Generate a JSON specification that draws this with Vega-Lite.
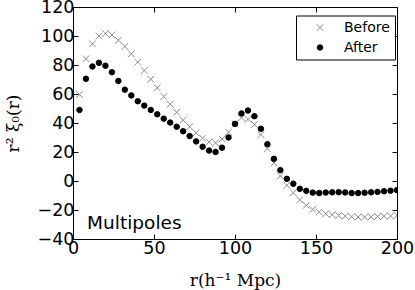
{
  "$schema": "https://vega.github.io/schema/vega-lite/v6.json",
  "width": 324,
  "height": 232,
  "autosize": "none",
  "padding": {"left": 73, "top": 7, "right": 18, "bottom": 51},
  "background": "white",
  "config": {
    "view": {"stroke": "black", "strokeWidth": 1},
    "font": "DejaVu Sans",
    "axis": {"grid": false, "domain": false, "tickColor": "black", "tickWidth": 1, "labelColor": "black", "labelFont": "DejaVu Sans", "labelFontSize": 17.5, "titleColor": "black", "titleFont": "DejaVu Serif", "titleFontSize": 17, "titleFontWeight": "normal", "labelFlush": false, "labelOverlap": false}
  },
  "datasets": {
    "pts": [
      {"r":4,"v":59.7,"s":"Before"},{"r":8,"v":84.3,"s":"Before"},{"r":12,"v":94.6,"s":"Before"},{"r":16,"v":100,"s":"Before"},{"r":20,"v":101.7,"s":"Before"},
      {"r":24,"v":100.8,"s":"Before"},{"r":28,"v":97,"s":"Before"},{"r":32,"v":92.8,"s":"Before"},{"r":36,"v":87.7,"s":"Before"},{"r":40,"v":82,"s":"Before"},
      {"r":44,"v":76.2,"s":"Before"},{"r":48,"v":70.2,"s":"Before"},{"r":52,"v":64.3,"s":"Before"},{"r":56,"v":58.3,"s":"Before"},{"r":60,"v":53,"s":"Before"},
      {"r":64,"v":47.4,"s":"Before"},{"r":68,"v":42,"s":"Before"},{"r":72,"v":37.4,"s":"Before"},{"r":76,"v":33.2,"s":"Before"},{"r":80,"v":29.5,"s":"Before"},
      {"r":84,"v":27,"s":"Before"},{"r":88,"v":26.3,"s":"Before"},{"r":92,"v":29,"s":"Before"},{"r":96,"v":33.7,"s":"Before"},{"r":100,"v":39.5,"s":"Before"},
      {"r":104,"v":43.6,"s":"Before"},{"r":108,"v":42.5,"s":"Before"},{"r":112,"v":39,"s":"Before"},{"r":116,"v":32,"s":"Before"},{"r":120,"v":22.2,"s":"Before"},
      {"r":124,"v":12.5,"s":"Before"},{"r":128,"v":3.5,"s":"Before"},{"r":132,"v":-3,"s":"Before"},{"r":136,"v":-8.1,"s":"Before"},{"r":140,"v":-13,"s":"Before"},
      {"r":144,"v":-16.8,"s":"Before"},{"r":148,"v":-19.6,"s":"Before"},{"r":152,"v":-21.4,"s":"Before"},{"r":156,"v":-22.6,"s":"Before"},{"r":160,"v":-23.2,"s":"Before"},
      {"r":164,"v":-23.8,"s":"Before"},{"r":168,"v":-24.3,"s":"Before"},{"r":172,"v":-24.7,"s":"Before"},{"r":176,"v":-24.9,"s":"Before"},{"r":180,"v":-24.9,"s":"Before"},
      {"r":184,"v":-24.7,"s":"Before"},{"r":188,"v":-24.5,"s":"Before"},{"r":192,"v":-24.3,"s":"Before"},{"r":196,"v":-24.1,"s":"Before"},{"r":200,"v":-23.8,"s":"Before"},
      {"r":4,"v":49,"s":"After"},{"r":8,"v":70.5,"s":"After"},{"r":12,"v":79,"s":"After"},{"r":16,"v":81.5,"s":"After"},{"r":20,"v":79.5,"s":"After"},
      {"r":24,"v":75,"s":"After"},{"r":28,"v":69,"s":"After"},{"r":32,"v":63,"s":"After"},{"r":36,"v":59,"s":"After"},{"r":40,"v":55,"s":"After"},
      {"r":44,"v":52,"s":"After"},{"r":48,"v":49,"s":"After"},{"r":52,"v":46,"s":"After"},{"r":56,"v":43,"s":"After"},{"r":60,"v":40.3,"s":"After"},
      {"r":64,"v":37.4,"s":"After"},{"r":68,"v":34.3,"s":"After"},{"r":72,"v":31,"s":"After"},{"r":76,"v":27.3,"s":"After"},{"r":80,"v":23.6,"s":"After"},
      {"r":84,"v":21,"s":"After"},{"r":88,"v":20,"s":"After"},{"r":92,"v":23,"s":"After"},{"r":96,"v":30,"s":"After"},{"r":100,"v":39.4,"s":"After"},
      {"r":104,"v":46.6,"s":"After"},{"r":108,"v":48.6,"s":"After"},{"r":112,"v":44.7,"s":"After"},{"r":116,"v":36,"s":"After"},{"r":120,"v":25.4,"s":"After"},
      {"r":124,"v":15.3,"s":"After"},{"r":128,"v":7.5,"s":"After"},{"r":132,"v":1.5,"s":"After"},{"r":136,"v":-1.9,"s":"After"},{"r":140,"v":-5.4,"s":"After"},
      {"r":144,"v":-6.8,"s":"After"},{"r":148,"v":-8,"s":"After"},{"r":152,"v":-8.3,"s":"After"},{"r":156,"v":-8,"s":"After"},{"r":160,"v":-7.8,"s":"After"},
      {"r":164,"v":-7.7,"s":"After"},{"r":168,"v":-7.9,"s":"After"},{"r":172,"v":-8.3,"s":"After"},{"r":176,"v":-8.3,"s":"After"},{"r":180,"v":-8.1,"s":"After"},
      {"r":184,"v":-7.8,"s":"After"},{"r":188,"v":-7.5,"s":"After"},{"r":192,"v":-7.1,"s":"After"},{"r":196,"v":-6.7,"s":"After"},{"r":200,"v":-6.3,"s":"After"}
    ],
    "note": [{"x": 8.7, "y": -33, "t": "Multipoles"}]
  },
  "layer": [
    {
      "data": {"name": "pts"},
      "mark": {"type": "point", "filled": true, "strokeWidth": 1, "opacity": 1, "clip": true},
      "encoding": {
        "x": {"field": "r", "type": "quantitative", "scale": {"domain": [0, 200], "nice": false, "zero": false},
              "axis": {"orient": "bottom", "values": [0, 50, 100, 150, 200], "tickSize": -5, "labelPadding": 5, "title": "r(h⁻¹ Mpc)", "titleY": 46, "titleBaseline": "alphabetic"}},
        "y": {"field": "v", "type": "quantitative", "scale": {"domain": [-40, 120], "nice": false, "zero": false},
              "axis": {"orient": "left", "values": [-40, -20, 0, 20, 40, 60, 80, 100, 120], "tickSize": -5, "labelPadding": 4, "labelExpr": "replace(datum.label, '-', '−')", "title": "r² ξ₀(r)", "titleX": -55, "titleBaseline": "alphabetic"}},
        "size": {"field": "s", "type": "nominal", "scale": {"domain": ["Before", "After"], "range": [44, 30]}, "legend": null},
        "color": {"field": "s", "type": "nominal", "title": null, "scale": {"domain": ["Before", "After"], "range": ["#8a8a8a", "#000000"]},
                  "legend": {"orient": "none", "legendX": 223, "legendY": 8.5, "strokeColor": "black", "fillColor": "white", "padding": 5, "labelFontSize": 14, "labelFont": "DejaVu Sans", "labelColor": "black", "symbolSize": 30, "symbolStrokeWidth": 1, "symbolOffset": 12, "labelOffset": 17, "rowPadding": 6, "cornerRadius": 0}},
        "stroke": {"field": "s", "type": "nominal", "title": null, "scale": {"domain": ["Before", "After"], "range": ["#8a8a8a", "#000000"]},
                  "legend": {"orient": "none", "legendX": 223, "legendY": 8.5, "strokeColor": "black", "fillColor": "white", "padding": 5, "labelFontSize": 14, "labelFont": "DejaVu Sans", "labelColor": "black", "symbolSize": 30, "symbolStrokeWidth": 1, "symbolOffset": 12, "labelOffset": 17, "rowPadding": 6, "cornerRadius": 0}},
        "shape": {"field": "s", "type": "nominal", "title": null, "scale": {"domain": ["Before", "After"], "range": ["M-1,-1L1,1M-1,1L1,-1", "circle"]},
                  "legend": {"orient": "none", "legendX": 223, "legendY": 8.5, "strokeColor": "black", "fillColor": "white", "padding": 5, "labelFontSize": 14, "labelFont": "DejaVu Sans", "labelColor": "black", "symbolSize": 30, "symbolStrokeWidth": 1, "symbolOffset": 12, "labelOffset": 17, "rowPadding": 6, "cornerRadius": 0}}
      }
    },
    {
      "data": {"name": "note"},
      "mark": {"type": "text", "align": "left", "baseline": "alphabetic", "fontSize": 18.5, "font": "DejaVu Sans", "color": "black"},
      "encoding": {
        "x": {"field": "x", "type": "quantitative", "axis": null},
        "y": {"field": "y", "type": "quantitative", "axis": null},
        "text": {"field": "t"}
      }
    },
    {
      "data": {"name": "pts"},
      "mark": {"type": "point", "opacity": 0},
      "encoding": {
        "x": {"field": "r", "type": "quantitative", "axis": {"orient": "top", "values": [0, 50, 100, 150, 200], "tickSize": -5, "labels": false, "title": null}},
        "y": {"field": "v", "type": "quantitative", "axis": {"orient": "right", "values": [-40, -20, 0, 20, 40, 60, 80, 100, 120], "tickSize": -5, "labels": false, "title": null}}
      }
    }
  ],
  "resolve": {"axis": {"x": "independent", "y": "independent"}}
}
